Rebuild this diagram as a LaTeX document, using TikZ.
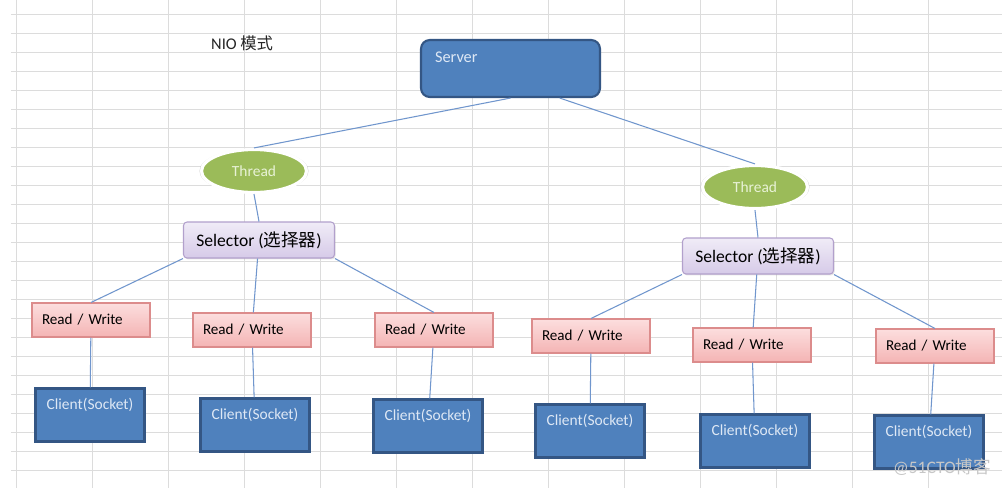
\documentclass[tikz,border=0pt]{standalone}
\usepackage{fontspec}
\setmainfont{Carlito}
\newfontfamily\cjk{Noto Sans CJK SC}
\usetikzlibrary{shapes.geometric,shadows}
\definecolor{gridgray}{RGB}{220,220,220}
\definecolor{linkblue}{RGB}{112,150,205}
\definecolor{boxblue}{RGB}{79,129,189}
\definecolor{boxedge}{RGB}{52,86,132}
\definecolor{boxtext}{RGB}{222,232,245}
\definecolor{threadgreen}{RGB}{155,187,89}
\definecolor{threadtext}{RGB}{232,242,214}
\definecolor{seltop}{RGB}{240,236,247}
\definecolor{selbot}{RGB}{214,202,232}
\definecolor{seledge}{RGB}{178,160,204}
\definecolor{rwtop}{RGB}{252,222,222}
\definecolor{rwbot}{RGB}{244,180,180}
\definecolor{rwedge}{RGB}{220,140,140}
\tikzset{
  gridline/.style={draw=gridgray,line width=0.5pt},
  link/.style={draw=linkblue,line width=0.6pt},
  server/.style={draw=boxedge,line width=1.2pt,fill=boxblue,rounded corners=5pt,
    minimum height=1.14cm,text width=3.02cm,inner xsep=0.28cm,align=left,
    text height=6pt,text depth=12.8pt,text=boxtext,font=\fontsize{9.3}{11}\selectfont},
  thread/.style={ellipse,draw=white,line width=1.8pt,fill=threadgreen,
    minimum width=2.1cm,minimum height=0.86cm,text=threadtext,font=\fontsize{8.8}{10}\selectfont,
    drop shadow={opacity=0.3,shadow xshift=0pt,shadow yshift=0pt,shadow scale=1.04}},
  selector/.style={draw=seledge,line width=0.6pt,rounded corners=2pt,
    top color=seltop,bottom color=selbot,minimum width=3.02cm,minimum height=0.72cm,
    font=\fontsize{10}{12}\selectfont,
    drop shadow={opacity=0.2,shadow xshift=0.6pt,shadow yshift=-0.8pt}},
  rw/.style={draw=rwedge,line width=0.6pt,top color=rwtop,bottom color=rwbot,
    minimum height=0.68cm,text width=1.96cm,inner xsep=0.2cm,align=left,
    font=\fontsize{8.6}{10}\selectfont,
    drop shadow={opacity=0.2,shadow xshift=0.6pt,shadow yshift=-0.8pt}},
  client/.style={draw=boxedge,line width=1.4pt,fill=boxblue,minimum width=2.18cm,
    minimum height=1.06cm,text height=6pt,text depth=12.6pt,text=boxtext,
    font=\fontsize{8.8}{10}\selectfont}
}
\begin{document}
\begin{tikzpicture}[x=0.02cm,y=-0.02cm,font=\fontsize{8}{9.6}\selectfont]
        \useasboundingbox[fill=white] (0,0) rectangle (1002,488);
        \foreach \gx in {16,92,...,928} \draw[gridline] (\gx,0) -- (\gx,488);
        \foreach \gy in {14,33,...,470} \draw[gridline] (11,\gy) -- (1002,\gy);

        \node[anchor=west,font=\fontsize{9.3}{11}\selectfont,text=black!85] (title) at (205,43) {NIO {\cjk 模式}};
        \node[server] (srv) at (510.5,68.5) {Server};

        \node[thread] (t1) at (254,171) {Thread};
        \node[thread] (t2) at (755,187) {Thread};
        \node[selector] (sel1) at (259,240) {Selector ({\cjk 选择器})};
        \node[selector] (sel2) at (758,256) {Selector ({\cjk 选择器})};

        \node[rw] (rw1) at (91,320) {Read / Write};
        \node[rw] (rw2) at (252,330) {Read / Write};
        \node[rw] (rw3) at (434,330) {Read / Write};
        \node[rw] (rw4) at (591,336) {Read / Write};
        \node[rw] (rw5) at (752,345) {Read / Write};
        \node[rw] (rw6) at (935,346) {Read / Write};

        \node[client] (cl1) at (90,415) {Client(Socket)};
        \node[client] (cl2) at (255,425) {Client(Socket)};
        \node[client] (cl3) at (428,426) {Client(Socket)};
        \node[client] (cl4) at (590,431) {Client(Socket)};
        \node[client] (cl5) at (755,441) {Client(Socket)};
        \node[client] (cl6) at (929,442) {Client(Socket)};

        \draw[link] (srv.south) -- (t1.north);
        \draw[link] (srv.-31) -- (t2.north);
        \draw[link] (t1.south) -- (sel1.north);
        \draw[link] (t2.south) -- (sel2.north);
        \draw[link] (sel1.south west) -- (rw1.north);
        \draw[link] (sel1) -- (rw2);
        \draw[link] (sel1.south east) -- (rw3.north);
        \draw[link] (sel2.south west) -- (rw4.north);
        \draw[link] (sel2) -- (rw5);
        \draw[link] (sel2.south east) -- (rw6.north);
        \draw[link] (rw1) -- (cl1);
        \draw[link] (rw2) -- (cl2);
        \draw[link] (rw3) -- (cl3);
        \draw[link] (rw4) -- (cl4);
        \draw[link] (rw5) -- (cl5);
        \draw[link] (rw6) -- (cl6);

        \node[text=black!22,font=\fontsize{10}{12}\selectfont] (mark) at (942,467) {@51CTO{\cjk 博客}};
    \end{tikzpicture}
\end{document}
